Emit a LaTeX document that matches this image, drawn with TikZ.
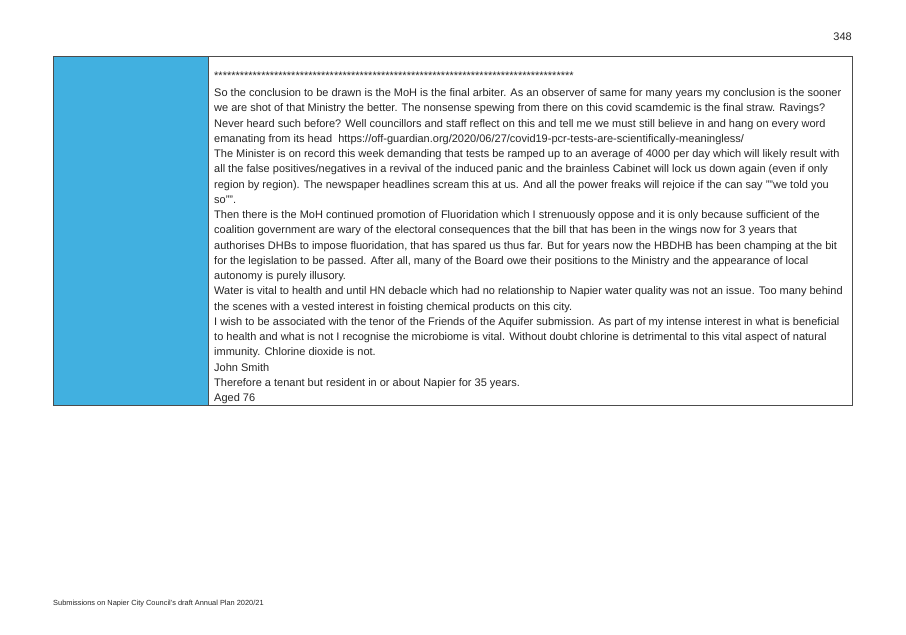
\documentclass[tikz,border=0pt]{standalone}
\usepackage{fontspec}
\setmainfont{Liberation Sans}
\begin{document}
\begin{tikzpicture}[x=1pt,y=-1pt,
  txt/.style={anchor=base west,inner sep=0pt,font=\fontsize{11}{13}\selectfont,text=black!85}]
\useasboundingbox[fill=white] (0,0) rectangle (906,635);
\node[txt,anchor=base east] (pg) at (852,40) {348};
\fill[fill={rgb,255:red,65;green,176;blue,224}] (53,56) rectangle (208,405);
\draw[black!70,line width=0.8pt] (53,56) rectangle (852,405);
\draw[black!70,line width=0.8pt] (208,56) -- (208,405);
\node[txt] (s) at (214,79.5) {************************************************************************************};
\foreach \t [count=\i from 0] in {
{So the conclusion to be drawn is the MoH is the final arbiter. As an observer of same for many years my conclusion is the sooner},
{we are shot of that Ministry the better. The nonsense spewing from there on this covid scamdemic is the final straw. Ravings?},
{Never heard such before? Well councillors and staff reflect on this and tell me we must still believe in and hang on every word},
{emanating from its head\ \ https://off-guardian.org/2020/06/27/covid19-pcr-tests-are-scientifically-meaningless/},
{The Minister is on record this week demanding that tests be ramped up to an average of 4000 per day which will likely result with},
{all the false positives/negatives in a revival of the induced panic and the brainless Cabinet will lock us down again (even if only},
{region by region). The newspaper headlines scream this at us. And all the power freaks will rejoice if the can say ""we told you},
{so"".},
{Then there is the MoH continued promotion of Fluoridation which I strenuously oppose and it is only because sufficient of the},
{coalition government are wary of the electoral consequences that the bill that has been in the wings now for 3 years that},
{authorises DHBs to impose fluoridation, that has spared us thus far. But for years now the HBDHB has been champing at the bit},
{for the legislation to be passed. After all, many of the Board owe their positions to the Ministry and the appearance of local},
{autonomy is purely illusory.},
{Water is vital to health and until HN debacle which had no relationship to Napier water quality was not an issue. Too many behind},
{the scenes with a vested interest in foisting chemical products on this city.},
{I wish to be associated with the tenor of the Friends of the Aquifer submission. As part of my intense interest in what is beneficial},
{to health and what is not I recognise the microbiome is vital. Without doubt chlorine is detrimental to this vital aspect of natural},
{immunity. Chlorine dioxide is not.},
{John Smith},
{Therefore a tenant but resident in or about Napier for 35 years.},
{Aged 76}}
  \node[txt] (l\i) at (214,{96.5+15.25*\i}) {\t};
\node[txt,font=\fontsize{7.4}{9}\selectfont] (ft) at (53,605) {Submissions on Napier City Council's draft Annual Plan 2020/21};
\end{tikzpicture}
\end{document}
